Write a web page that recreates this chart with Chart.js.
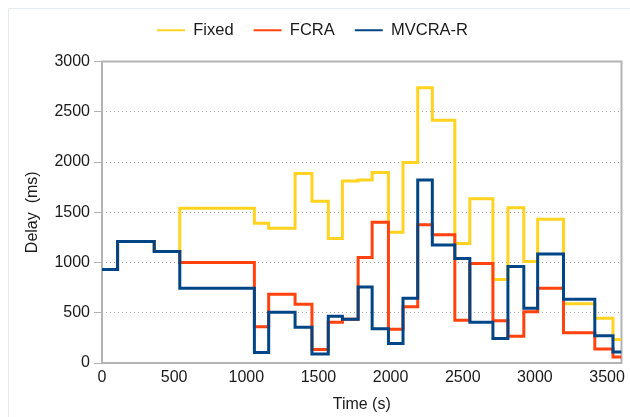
<!DOCTYPE html>
<html>
<head>
<meta charset="utf-8">
<script src="https://cdn.jsdelivr.net/npm/chart.js@4/dist/chart.umd.min.js"></script>
<style>
  html, body { margin: 0; padding: 0; background: #ffffff; }
  #wrap { width: 630px; height: 417px; }
</style>
</head>
<body>
<div id="wrap"><canvas id="c" width="630" height="417"></canvas></div>
<script>
// Step boundaries (s): each value holds from its time until the next one
const times = [0, 108, 362, 539, 1056, 1155, 1338, 1455, 1568, 1666, 1775, 1872, 1985,
               2086, 2188, 2289, 2445, 2549, 2709, 2813, 2923, 3019, 3198, 3415, 3541, 3600];

// Delay (ms) per interval; last entry closes the final step at the axis end
const fixedDelay = [930, 1210, 1110, 1540, 1390, 1340, 1885, 1610, 1240, 1810, 1820, 1895, 1300,
                    1995, 2740, 2415, 1190, 1635, 830, 1545, 1010, 1430, 590, 445, 235, 235];
const fcraDelay  = [930, 1210, 1110, 1000, 360, 685, 585, 135, 405, 435, 1050, 1400, 335,
                    560, 1375, 1275, 425, 990, 420, 265, 510, 745, 300, 140, 60, 60];
const mvcraDelay = [930, 1210, 1110, 745, 105, 505, 355, 90, 465, 435, 755, 340, 195,
                    645, 1820, 1175, 1040, 405, 245, 960, 545, 1085, 635, 270, 110, 110];

const seriesNames = ['Fixed', 'FCRA', 'MVCRA-R'];
const xTickValues = [0, 500, 1000, 1500, 2000, 2500, 3000, 3500];
const yTickValues = [0, 500, 1000, 1500, 2000, 2500, 3000];

const toPoints = vals => times.map((t, i) => ({ x: t, y: vals[i] }));

const FONT = "'Liberation Sans', Arial, sans-serif";
const TEXT = '#1a1a1a';
const FRAME = '#b3b3b3';

// Plot frame under the lines, plus the faint page edge
const framePlugin = {
  id: 'frame',
  beforeDraw(chart) {
    const ctx = chart.ctx;
    ctx.save();
    ctx.strokeStyle = '#e6ebef';
    ctx.lineWidth = 1;
    ctx.beginPath();
    ctx.moveTo(630, 8.5);
    ctx.lineTo(8.5, 8.5);
    ctx.lineTo(8.5, 417);
    ctx.stroke();
    ctx.restore();
  },
  beforeDatasetsDraw(chart) {
    const { ctx, chartArea: a } = chart;
    ctx.save();
    ctx.strokeStyle = FRAME;
    ctx.lineWidth = 2;
    ctx.strokeRect(a.left, a.top, a.right - a.left, a.bottom - a.top);
    ctx.restore();
  }
};

// Extra room between the legend row and the plot
const legendGap = {
  id: 'legendGap',
  beforeInit(chart) {
    const legend = chart.legend;
    if (!legend) return;
    const fit = legend.fit;
    legend.fit = function () { fit.call(this); this.height += 13; };
  }
};

// Legend keys drawn as thin filled lines (no outline stroke)
const defaultLabels = Chart.defaults.plugins.legend.labels.generateLabels;

new Chart(document.getElementById('c'), {
  type: 'line',
  data: {
    datasets: [
      { label: seriesNames[0], data: toPoints(fixedDelay), borderColor: '#ffd320', backgroundColor: '#ffd320', order: 3 },
      { label: seriesNames[1], data: toPoints(fcraDelay),  borderColor: '#ff420e', backgroundColor: '#ff420e', order: 2 },
      { label: seriesNames[2], data: toPoints(mvcraDelay), borderColor: '#004586', backgroundColor: '#004586', order: 1 }
    ].map(d => Object.assign(d, { stepped: 'before', borderWidth: 3, pointRadius: 0, fill: false }))
  },
  options: {
    responsive: false,
    animation: false,
    layout: { padding: { left: 0, right: 5, top: 2, bottom: 0 } },
    plugins: {
      tooltip: { enabled: false },
      legend: {
        position: 'top',
        labels: {
          font: { family: FONT, size: 16.5 },
          color: TEXT,
          boxWidth: 28,
          boxHeight: 2,
          padding: 20,
          generateLabels: chart => defaultLabels(chart).map(item => Object.assign(item, { lineWidth: 0 })),
          sort: (a, b) => a.datasetIndex - b.datasetIndex
        }
      }
    },
    scales: {
      x: {
        type: 'linear',
        min: 0,
        max: 3600,
        afterBuildTicks: s => { s.ticks = xTickValues.map(v => ({ value: v })); },
        afterFit: s => { s.height = 54; },
        grid: { display: false, drawTicks: false },
        border: { display: false },
        ticks: { font: { family: FONT, size: 16 }, color: TEXT, padding: 5, maxRotation: 0, callback: v => String(v) },
        title: { display: true, text: 'Time (s)', font: { family: FONT, size: 16 }, color: TEXT, padding: { top: 0, bottom: 3 } }
      },
      y: {
        min: 0,
        max: 3000,
        afterBuildTicks: s => { s.ticks = yTickValues.map(v => ({ value: v })); },
        afterFit: s => { s.width = 102; },
        grid: {
          color: '#a8a8a8',
          lineWidth: 1,
          tickColor: FRAME,
          tickBorderDash: [],
          tickLength: 8
        },
        border: { display: false, dash: [1, 3] },
        ticks: { font: { family: FONT, size: 16 }, color: TEXT, padding: 4, callback: v => String(v) },
        title: { display: true, text: 'Delay  (ms)', font: { family: FONT, size: 16 }, color: TEXT, padding: { top: 23, bottom: 0 } }
      }
    }
  },
  plugins: [framePlugin, legendGap]
});
</script>
</body>
</html>
